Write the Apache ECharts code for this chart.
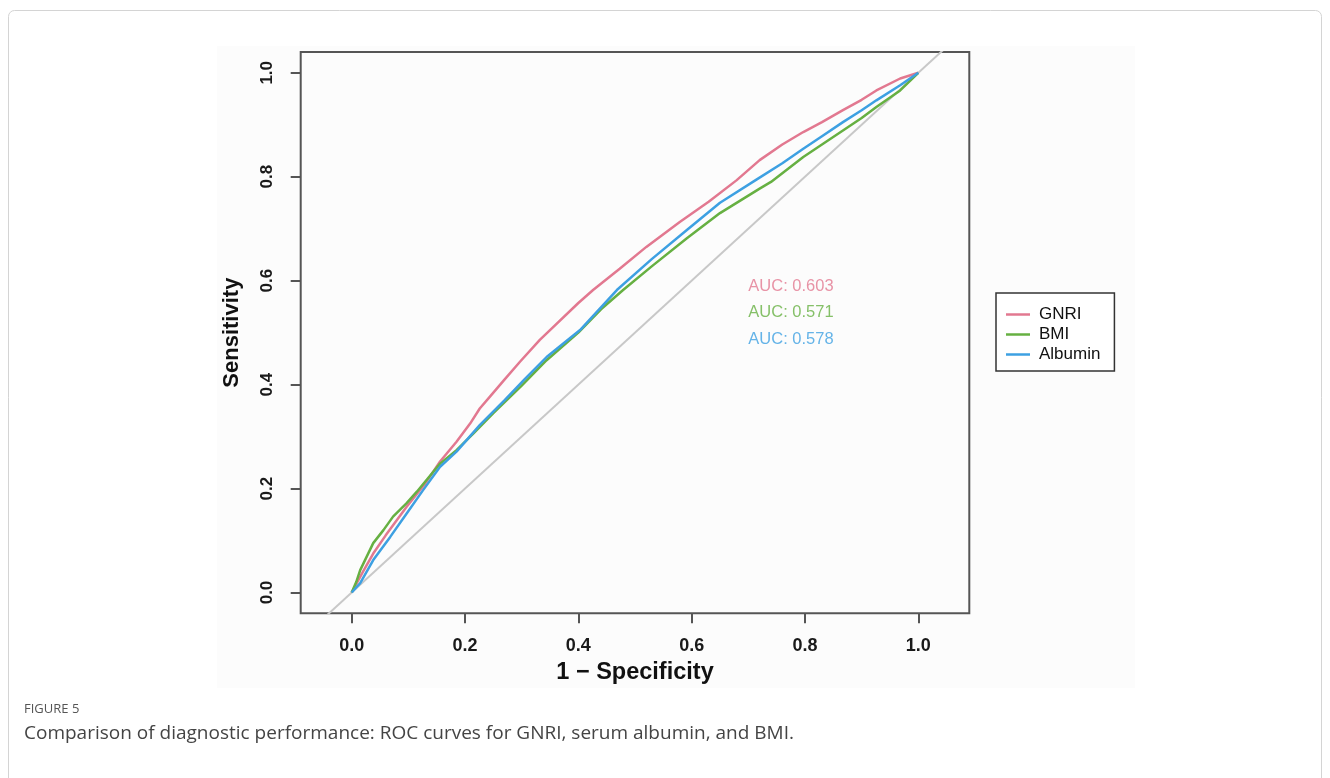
<!DOCTYPE html>
<html>
<head>
<meta charset="utf-8">
<script src="https://cdn.jsdelivr.net/npm/echarts@6/dist/echarts.min.js"></script>
<style>
html,body{margin:0;padding:0;background:#fff;}
#chart{width:1330px;height:778px;}
</style>
</head>
<body>
<div id="chart"></div>
<script>
// ---- data ----
const tickValues = [0, 0.2, 0.4, 0.6, 0.8, 1.0];
const seriesNames = ['GNRI', 'BMI', 'Albumin'];
const aucLabels = ['AUC: 0.603', 'AUC: 0.571', 'AUC: 0.578'];

const gnriX = [0, 0.02, 0.038, 0.06, 0.097, 0.13, 0.156, 0.185, 0.209, 0.226, 0.244, 0.27, 0.297, 0.332, 0.35, 0.40, 0.426, 0.473, 0.52, 0.579, 0.63, 0.679, 0.72, 0.76, 0.797, 0.83, 0.867, 0.90, 0.926, 0.968, 1.0];
const gnriY = [0, 0.04, 0.075, 0.11, 0.165, 0.21, 0.252, 0.29, 0.325, 0.354, 0.377, 0.41, 0.444, 0.486, 0.505, 0.557, 0.582, 0.623, 0.665, 0.713, 0.752, 0.793, 0.832, 0.862, 0.886, 0.905, 0.928, 0.948, 0.966, 0.989, 1.0];

const bmiX = [0, 0.008, 0.015, 0.038, 0.056, 0.073, 0.097, 0.115, 0.156, 0.185, 0.215, 0.25, 0.30, 0.344, 0.40, 0.44, 0.479, 0.53, 0.591, 0.65, 0.72, 0.74, 0.797, 0.83, 0.867, 0.90, 0.926, 0.968, 1.0];
const bmiY = [0, 0.02, 0.043, 0.095, 0.12, 0.146, 0.172, 0.194, 0.248, 0.274, 0.306, 0.345, 0.398, 0.447, 0.50, 0.545, 0.582, 0.628, 0.681, 0.73, 0.777, 0.79, 0.838, 0.862, 0.889, 0.913, 0.934, 0.966, 1.0];

const albX = [0, 0.015, 0.038, 0.068, 0.097, 0.126, 0.156, 0.185, 0.226, 0.27, 0.305, 0.344, 0.403, 0.468, 0.53, 0.591, 0.65, 0.715, 0.76, 0.797, 0.83, 0.867, 0.90, 0.926, 0.968, 1.0];
const albY = [0, 0.018, 0.0625, 0.107, 0.152, 0.197, 0.242, 0.271, 0.322, 0.37, 0.41, 0.453, 0.505, 0.582, 0.642, 0.697, 0.75, 0.795, 0.826, 0.854, 0.878, 0.905, 0.928, 0.947, 0.976, 1.0];

const refX = [-0.2, 1.2];
const refY = [-0.2, 1.2];

const aucX = [0.70, 0.70, 0.70];
const aucY = [0.588, 0.538, 0.4875];

const colors = ['#E27890', '#66B042', '#3DA0E2'];

// ---- build ----
const zip = (a, b) => a.map((v, i) => [v, b[i]]);
const curveData = [zip(gnriX, gnriY), zip(bmiX, bmiY), zip(albX, albY)];

const chart = echarts.init(document.getElementById('chart'), null, {renderer: 'canvas'});

const tickFont = {fontFamily: 'Liberation Sans', fontWeight: 'bold', color: '#1a1a1a'};

const series = [{
  type: 'line',
  data: zip(refX, refY),
  symbol: 'none',
  clip: true,
  silent: true,
  lineStyle: {color: '#c8c8c8', width: 2},
  z: 1
}];
curveData.forEach((d, i) => {
  series.push({
    name: seriesNames[i],
    type: 'line',
    data: d,
    symbol: 'none',
    showSymbol: false,
    clip: true,
    lineStyle: {color: colors[i], width: 2.5},
    itemStyle: {color: colors[i]},
    z: 2 + i
  });
});
aucLabels.forEach((t, i) => {
  series.push({
    type: 'scatter',
    data: [[aucX[i], aucY[i]]],
    symbolSize: 0,
    silent: true,
    label: {
      show: true,
      position: 'right',
      distance: 0,
      formatter: t,
      color: colors[i],
      fontFamily: 'Liberation Sans',
      fontSize: 16.5,
      verticalAlign: 'middle'
    },
    z: 5
  });
});

const option = {
  animation: false,
  backgroundColor: '#ffffff',
  graphic: [
    {type: 'rect', shape: {x: 8.5, y: 10.5, width: 1313, height: 800, r: 6}, style: {fill: '#ffffff', stroke: '#d4d4d4', lineWidth: 1}, z: -10, silent: true},
    {type: 'rect', shape: {x: 217, y: 46, width: 918, height: 642}, style: {fill: '#fcfcfc'}, z: -9, silent: true},
    {type: 'text', left: 24, top: 703, style: {text: 'FIGURE 5', font: '13px "Open Sans"', fill: '#555'}, silent: true},
    {type: 'text', left: 24, top: 724, style: {text: 'Comparison of diagnostic performance: ROC curves for GNRI, serum albumin, and BMI.', font: '19px "Open Sans"', fill: '#444'}, silent: true}
  ],
  grid: {
    left: 300.7, top: 52, right: 360.7, bottom: 164.7,
    show: true, borderColor: '#555', borderWidth: 2, backgroundColor: 'transparent',
    containLabel: false
  },
  legend: {
    data: seriesNames,
    orient: 'vertical',
    left: 996, top: 293,
    padding: [13, 14, 8, 10],
    icon: 'rect',
    itemWidth: 24, itemHeight: 2.5, itemGap: 3,
    borderColor: '#333', borderWidth: 1.5,
    backgroundColor: '#fff',
    textStyle: {fontFamily: 'Liberation Sans', fontSize: 17, color: '#111', padding: [0, 0, 0, 4]},
    selectedMode: false
  },
  xAxis: {
    type: 'value', min: -0.09, max: 1.09,
    name: '1 − Specificity', nameLocation: 'middle', nameGap: 47,
    nameTextStyle: {fontFamily: 'Liberation Sans', fontWeight: 'bold', fontSize: 23.5, color: '#111'},
    axisLine: {show: false, onZero: false},
    axisTick: {show: true, customValues: tickValues, length: 10, lineStyle: {color: '#555', width: 2}},
    axisLabel: Object.assign({customValues: tickValues, margin: 24, fontSize: 18, formatter: v => v.toFixed(1)}, tickFont),
    splitLine: {show: false}
  },
  yAxis: {
    type: 'value', min: -0.04, max: 1.04,
    name: 'Sensitivity', nameLocation: 'middle', nameGap: 58, nameRotate: 90,
    nameTextStyle: {fontFamily: 'Liberation Sans', fontWeight: 'bold', fontSize: 22, color: '#111'},
    axisLine: {show: false, onZero: false},
    axisTick: {show: true, customValues: tickValues, length: 10, lineStyle: {color: '#555', width: 2}},
    axisLabel: Object.assign({customValues: tickValues, margin: 25, rotate: 90, fontSize: 17, formatter: v => v.toFixed(1)}, tickFont),
    splitLine: {show: false}
  },
  series: series
};
chart.setOption(option);
</script>
</body>
</html>
